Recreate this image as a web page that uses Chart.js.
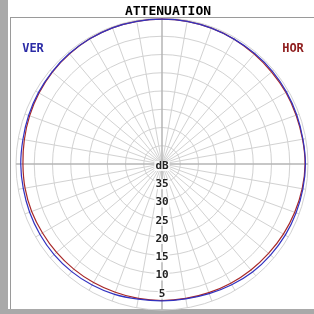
<!DOCTYPE html>
<html>
<head>
<meta charset="utf-8">
<script src="https://cdn.jsdelivr.net/npm/chart.js@4/dist/chart.umd.min.js"></script>
<style>
  html, body { margin: 0; padding: 0; background: #fff; }
  #wrap { position: relative; width: 314px; height: 314px; }
</style>
</head>
<body>
<div id="wrap"><canvas id="chart-pattern" width="314" height="314"></canvas></div>
<script>
// attenuation in dB, one value every 10 degrees, clockwise from the top
const angles = [0, 10, 20, 30, 40, 50, 60, 70, 80, 90, 100, 110, 120, 130, 140, 150, 160, 170,
                180, 190, 200, 210, 220, 230, 240, 250, 260, 270, 280, 290, 300, 310, 320, 330, 340, 350];
const horAtt = [0.3, 0.3, 0.4, 0.5, 0.7, 0.8, 0.8, 0.9, 0.9, 0.8, 1.0, 1.3, 1.6, 1.9, 2.1, 2.3, 2.5, 2.6,
                2.6, 2.6, 2.6, 2.5, 2.4, 2.3, 2.2, 2.0, 1.9, 1.9, 1.7, 1.4, 1.1, 0.8, 0.6, 0.4, 0.3, 0.3];
const verAtt = [0.3, 0.3, 0.4, 0.5, 0.5, 0.5, 0.6, 0.7, 0.8, 0.7, 0.8, 0.9, 1.0, 1.2, 1.4, 1.8, 2.2, 2.5,
                2.5, 2.4, 2.0, 1.7, 1.5, 1.4, 1.4, 1.4, 1.4, 1.3, 1.3, 1.1, 0.9, 0.7, 0.5, 0.4, 0.3, 0.3];
const tickLabels = ['dB', '35', '30', '25', '20', '15', '10', '5'];
const maxDb = 40;

const frame = {
    id: 'frame',
    beforeDraw(chart) {
        const ctx = chart.ctx;
        ctx.save();
        ctx.fillStyle = '#fff';
        ctx.fillRect(0, 0, 314, 314);
        ctx.fillStyle = '#a9a9a9';
        ctx.fillRect(0, 0, 8, 314);
        ctx.fillRect(0, 309, 314, 5);
        ctx.fillStyle = '#9a9a9a';
        ctx.fillRect(10, 17, 304, 1);
        ctx.fillRect(10, 17, 1, 292);
        ctx.restore();
    },
    afterDraw(chart) {
        const ctx = chart.ctx;
        const r = chart.scales.r;
        ctx.save();
        ctx.font = 'bold 11px "DejaVu Sans Mono"';
        ctx.textAlign = 'center';
        ctx.textBaseline = 'middle';
        tickLabels.forEach((t, i) => {
            const y = r.yCenter + r.getDistanceFromCenterForValue(i * 5) + 2;
            const w = ctx.measureText(t).width;
            ctx.fillStyle = 'rgba(255,255,255,0.85)';
            ctx.fillRect(r.xCenter - w / 2 - 1, y - 5, w + 2, 10);
            ctx.fillStyle = '#222';
            ctx.fillText(t, r.xCenter, y);
        });
        ctx.font = 'bold 13px "DejaVu Sans Mono"';
        ctx.fillStyle = '#000';
        ctx.textBaseline = 'alphabetic';
        ctx.fillText('ATTENUATION', 168, 15);
        ctx.font = 'bold 12px "DejaVu Sans Mono"';
        ctx.fillStyle = '#2b2ba6';
        ctx.fillText('VER', 33, 52);
        ctx.fillStyle = '#8e1c1c';
        ctx.fillText('HOR', 293, 52);
        ctx.restore();
    }
};

new Chart(document.getElementById('chart-pattern'), {
    type: 'radar',
    data: {
        labels: angles.map(a => a + '°'),
        datasets: [{
            label: 'VER',
            data: verAtt.map(v => maxDb - v),
            borderColor: '#3232c0',
            borderWidth: 1.2,
            pointRadius: 0,
            fill: false,
            tension: 0.35,
        }, {
            label: 'HOR',
            data: horAtt.map(v => maxDb - v),
            borderColor: '#a82828',
            borderWidth: 1.2,
            pointRadius: 0,
            fill: false,
            tension: 0.35,
        }],
    },
    options: {
        responsive: false,
        animation: false,
        layout: { padding: { left: 16, right: 6, top: 18, bottom: 4 } },
        plugins: { legend: { display: false }, tooltip: { enabled: false } },
        scales: {
            r: {
                min: 0,
                max: maxDb,
                ticks: { display: false, stepSize: 5 },
                pointLabels: { display: false },
                grid: { circular: true, color: '#d2d2d2', lineWidth: 1 },
                angleLines: {
                    color: ctx => ctx.index % 9 === 0 ? '#b4b4b4' : '#d2d2d2',
                    lineWidth: ctx => ctx.index % 9 === 0 ? 1.5 : 1,
                },
            },
        },
    },
    plugins: [frame],
});
</script>
</body>
</html>
